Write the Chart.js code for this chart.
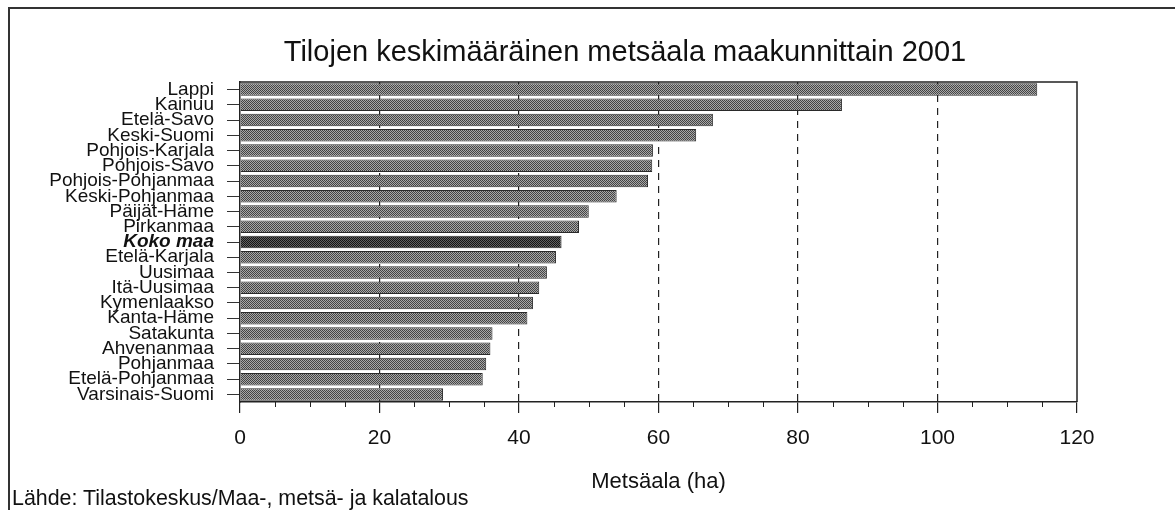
<!DOCTYPE html>
<html lang="fi">
<head>
<meta charset="utf-8">
<title>Tilojen keskimääräinen metsäala maakunnittain 2001</title>
<script src="https://cdn.jsdelivr.net/npm/chart.js@4"></script>
<style>
  html, body { margin: 0; padding: 0; background: #fff; overflow: hidden; }
  #kehys { position: relative; width: 1175px; height: 510px; overflow: hidden; font-family: "Liberation Sans", Arial, sans-serif; color: #111; }
  #reunus { position: absolute; left: 8px; top: 7px; width: 1300px; height: 700px; border-left: 2px solid #333; border-top: 2px solid #333; }
  #otsikko { position: absolute; left: 0; width: 1250px; top: 35px; text-align: center; font-size: 29px; }
  #lahde { position: absolute; left: 12px; top: 486px; font-size: 21.4px; }
  canvas { position: absolute; left: 0; top: 0; }
</style>
</head>
<body>
<div id="kehys">
  <div id="reunus"></div>
  <canvas id="grafiikka" width="1175" height="510"></canvas>
  <div id="otsikko">Tilojen keskimääräinen metsäala maakunnittain 2001</div>
  <div id="lahde">Lähde: Tilastokeskus/Maa-, metsä- ja kalatalous</div>
</div>
<script>
  // Maakunnat ja keskimääräinen metsäala (ha), luettu kuvasta
  const maakunnat = [
    "Lappi", "Kainuu", "Etelä-Savo", "Keski-Suomi", "Pohjois-Karjala",
    "Pohjois-Savo", "Pohjois-Pohjanmaa", "Keski-Pohjanmaa", "Päijät-Häme",
    "Pirkanmaa", "Koko maa", "Etelä-Karjala", "Uusimaa", "Itä-Uusimaa",
    "Kymenlaakso", "Kanta-Häme", "Satakunta", "Ahvenanmaa", "Pohjanmaa",
    "Etelä-Pohjanmaa", "Varsinais-Suomi"
  ];
  const metsaala = [
    114.3, 86.3, 67.8, 65.4, 59.2, 59.1, 58.5, 54.0, 50.0, 48.6,
    46.1, 45.3, 44.0, 42.9, 42.0, 41.2, 36.2, 35.9, 35.3, 34.8, 29.1
  ];
  const xMin = 0;
  const xMax = 120;
  const xAskel = 20;
  const korostus = "Koko maa";

  // Rasterikuvio palkeille
  function teeKuvio(tumma, vaalea) {
    const c = document.createElement("canvas");
    c.width = 2;
    c.height = 2;
    const g = c.getContext("2d");
    g.fillStyle = vaalea;
    g.fillRect(0, 0, 2, 2);
    g.fillStyle = tumma;
    g.fillRect(0, 0, 1, 1);
    g.fillRect(1, 1, 1, 1);
    return g.createPattern(c, "repeat");
  }

  const ctx = document.getElementById("grafiikka").getContext("2d");
  const perusKuvio = teeKuvio("#444444", "#a8a8a8");
  const tummaKuvio = teeKuvio("#161616", "#626262");

  // Pienet väliviivat x-akselille ja kuva-alueen ylä- ja oikea reuna
  const lisaviivat = {
    id: "lisaviivat",
    afterDraw(chart) {
      const x = chart.scales.x;
      const a = chart.chartArea;
      const c = chart.ctx;
      c.save();
      c.strokeStyle = "#222";
      c.lineWidth = 1;
      for (let v = xMin + 5; v < xMax; v += 5) {
        if (v % xAskel === 0) continue;
        const px = Math.round(x.getPixelForValue(v)) + 0.5;
        c.beginPath();
        c.moveTo(px, a.bottom);
        c.lineTo(px, a.bottom + 5);
        c.stroke();
      }
      c.lineWidth = 1.5;
      c.beginPath();
      c.moveTo(a.left, a.top);
      c.lineTo(a.right, a.top);
      c.lineTo(a.right, a.bottom);
      c.stroke();
      c.restore();
    }
  };

  new Chart(ctx, {
    type: "bar",
    data: {
      labels: maakunnat,
      datasets: [
        {
          label: "Metsäala (ha)",
          data: metsaala,
          backgroundColor: maakunnat.map(m => m === korostus ? tummaKuvio : perusKuvio),
          borderColor: "#2a2a2a",
          borderWidth: 1,
          barPercentage: 0.82,
          categoryPercentage: 1.0,
        },
      ],
    },
    options: {
      indexAxis: "y",
      responsive: false,
      animation: false,
      layout: {
        padding: { left: 0, top: 82, right: 98, bottom: 0 },
      },
      plugins: {
        legend: { display: false },
        title: { display: false },
        tooltip: { enabled: false },
      },
      scales: {
        x: {
          type: "linear",
          min: xMin,
          max: xMax,
          afterFit(scale) { scale.height = 108; },
          ticks: {
            stepSize: xAskel,
            color: "#111",
            padding: 13,
            font: { family: "'Liberation Sans', Arial, sans-serif", size: 21 },
          },
          grid: {
            color: c => (c.tick && c.tick.value > xMin && c.tick.value < xMax) ? "#222" : "rgba(0,0,0,0)",
            lineWidth: 1.2,
            tickColor: "#222",
            tickLength: 11,
          },
          border: { color: "#222", width: 1.5, dash: [7, 6] },
          title: {
            display: true,
            text: "Metsäala (ha)",
            color: "#111",
            padding: { top: 4, bottom: 15 },
            font: { family: "'Liberation Sans', Arial, sans-serif", size: 22 },
          },
        },
        y: {
          afterFit(scale) { scale.width = 240; },
          ticks: {
            autoSkip: false,
            color: "#111",
            padding: 13,
            font: c => ({
              family: "'Liberation Sans', Arial, sans-serif",
              size: 19,
              style: c.tick && c.tick.label === korostus ? "italic" : "normal",
              weight: c.tick && c.tick.label === korostus ? "bold" : "normal",
            }),
          },
          grid: {
            offset: false,
            drawOnChartArea: false,
            tickColor: "#333",
            tickLength: 13,
          },
          border: { color: "#222", width: 1.5 },
        },
      },
    },
    plugins: [lisaviivat],
  });
</script>
</body>
</html>
